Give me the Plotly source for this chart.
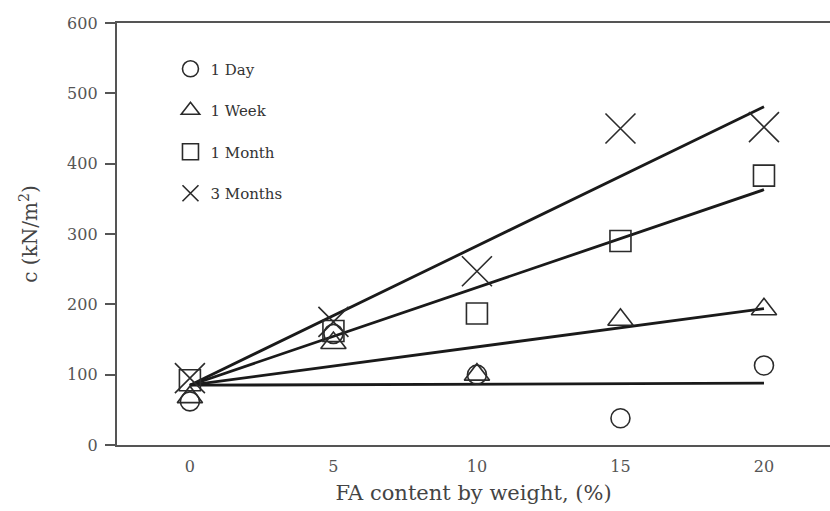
import plotly.graph_objects as go

# FA content (% by weight) and cohesion c (kN/m^2) per curing period
fa_content = [0, 5, 10, 15, 20]
series_names = ["1 Day", "1 Week", "1 Month", "3 Months"]
c_1day = [62, 158, 100, 38, 113]
c_1week = [68, 145, 100, 178, 193]
c_1month = [92, 162, 187, 290, 383]
c_3months = [95, 175, 247, 450, 452]

# Linear trend lines: value at 0 % and at 20 % FA
fit_x = [0, 20]
fit_1day = [85, 88]
fit_1week = [85, 194]
fit_1month = [85, 363]
fit_3months = [85, 481]

values = [c_1day, c_1week, c_1month, c_3months]
fits = [fit_1day, fit_1week, fit_1month, fit_3months]
symbols = ["circle-open", "triangle-up-open", "square-open", "x-thin-open"]
sizes = [19, 22, 21, 30]

ink = "#2b2b2b"
serif = "DejaVu Serif, Liberation Serif, serif"

fig = go.Figure()

for fy in fits:
    fig.add_trace(go.Scatter(
        x=fit_x, y=fy, mode="lines",
        line=dict(color="#1a1a1a", width=2.8),
        showlegend=False, hoverinfo="skip",
    ))

for i, (name, vals) in enumerate(zip(series_names, values)):
    fig.add_trace(go.Scatter(
        x=fa_content, y=vals, mode="markers", name=name,
        legendgroup=name,
        marker=dict(symbol=symbols[i], size=sizes[i], color=ink,
                    line=dict(color=ink, width=1.6)),
    ))

fig.update_layout(
    template="none",
    width=830, height=511,
    margin=dict(l=117, r=0, t=23, b=66),
    paper_bgcolor="white", plot_bgcolor="white",
    font=dict(family=serif, color="#444", size=14),
    showlegend=True,
    legend=dict(
        x=0.075, y=0.93, xanchor="left", yanchor="top",
        bgcolor="rgba(0,0,0,0)", tracegroupgap=19,
        font=dict(family=serif, size=15, color="#333"),
        itemwidth=30,
    ),
    xaxis=dict(
        range=[-2.54, 22.3], tickvals=[0, 5, 10, 15, 20],
        showgrid=False, zeroline=False,
        showline=True, linecolor="#555", linewidth=2.4, mirror=True,
        ticks="", ticklabelstandoff=6,
        tickfont=dict(family=serif, size=16, color="#555"),
        title=dict(text="FA content by weight, (%)",
                   font=dict(family=serif, size=21, color="#444"),
                   standoff=10),
    ),
    yaxis=dict(
        range=[0, 600], tickvals=[0, 100, 200, 300, 400, 500, 600],
        showgrid=False, zeroline=False,
        showline=True, linecolor="#555", linewidth=2.4,
        ticks="outside", ticklen=10, tickwidth=1.6, tickcolor="#555",
        ticklabelstandoff=4,
        tickfont=dict(family=serif, size=16, color="#555"),
        title=dict(text="c (kN/m<sup>2</sup>)",
                   font=dict(family=serif, size=20, color="#444"),
                   standoff=24),
    ),
)

fig.write_html("out.html")
